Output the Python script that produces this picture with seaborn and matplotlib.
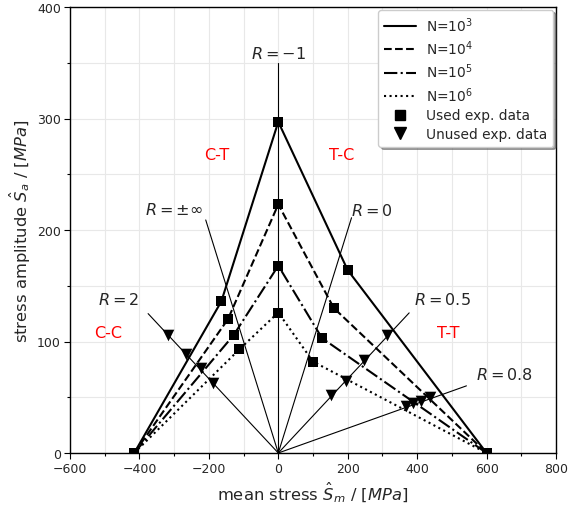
import numpy as np
import pandas as pd
import matplotlib
matplotlib.use("Agg")
import matplotlib.pyplot as plt
from matplotlib.lines import Line2D
from matplotlib.ticker import MultipleLocator
import seaborn as sns

# ---------------- data ----------------
cycles = ["$10^3$", "$10^4$", "$10^5$", "$10^6$"]
line_styles = ["-", "--", "-.", ":"]

# constant-life polylines (mean stress, amplitude)
sm_n3 = [-415, -164, 0, 200, 600]
sa_n3 = [0, 136, 297, 164, 0]
sm_n4 = [-415, -145, 0, 160, 600]
sa_n4 = [0, 120, 223, 130, 0]
sm_n5 = [-415, -128, 0, 126, 600]
sa_n5 = [0, 106, 168, 103, 0]
sm_n6 = [-415, -112, 0, 100, 600]
sa_n6 = [0, 93, 126, 82, 0]

# unused experimental data
sm_unused = [-318, -265, -222, -188, 313, 247, 194, 153, 438, 412, 388, 367]
sa_unused = [106, 89, 76, 63, 106, 83, 65, 52, 50, 47, 45, 42]

# stress-ratio rays from the origin
r_values = [-1, np.inf, 0, 2, 0.5, 0.8]
r_labels = [r"$R = -1$", r"$R = \pm\infty$", r"$R = 0$", r"$R = 2$",
            r"$R = 0.5$", r"$R = 0.8$"]
r_end_sm = [0, -209, 211, -375, 377, 542]
r_end_sa_vertical = 350
r_label_pos = [(0, 359), (-301, 219), (270, 218), (-461, 138), (473, 138), (651, 71)]

regions = ["C-T", "T-C", "C-C", "T-T"]
region_pos = [(-178, 268), (182, 268), (-489, 108), (489, 108)]

# ---------------- plot ----------------
sns.set_style("whitegrid")
plt.rcParams["font.family"] = ["DejaVu Sans"]
plt.rcParams["mathtext.fontset"] = "dejavusans"

fig = plt.figure(figsize=(5.68, 5.10), dpi=100)
ax = fig.add_axes([70 / 568, 1 - 454 / 510, 486 / 568, 446 / 510])

# rays
for R, sm_end in zip(r_values, r_end_sm):
    if R == -1:
        xs, ys = [0, 0], [0, r_end_sa_vertical]
    elif np.isinf(R):
        xs, ys = [0, sm_end], [0, -sm_end]
    else:
        xs, ys = [0, sm_end], [0, sm_end * (1 - R) / (1 + R)]
    sns.lineplot(x=xs, y=ys, sort=False, estimator=None, color="k", lw=0.8,
                 ax=ax, zorder=2)

series = [(sm_n3, sa_n3), (sm_n4, sa_n4), (sm_n5, sa_n5), (sm_n6, sa_n6)]
for (sm, sa), ls in zip(series, line_styles):
    sns.lineplot(x=sm, y=sa, sort=False, estimator=None, color="k", lw=1.5,
                 linestyle=ls, ax=ax, zorder=3)
    sns.scatterplot(x=sm, y=sa, marker="s", color="k", s=50, edgecolor="k",
                    linewidth=0, ax=ax, zorder=4)

sns.scatterplot(x=sm_unused, y=sa_unused, marker="v", color="k", s=70,
                edgecolor="k", linewidth=0, ax=ax, zorder=4)

for lab, (x, y) in zip(r_labels, r_label_pos):
    ax.text(x, y, lab, ha="center", va="center", fontsize=11.5, zorder=5)
for lab, (x, y) in zip(regions, region_pos):
    ax.text(x, y, lab, ha="center", va="center", fontsize=11.5, color="red", zorder=5)

ax.set_xlim(-600, 800)
ax.set_ylim(0, 400)
ax.xaxis.set_major_locator(MultipleLocator(200))
ax.xaxis.set_minor_locator(MultipleLocator(100))
ax.yaxis.set_major_locator(MultipleLocator(100))
ax.yaxis.set_minor_locator(MultipleLocator(50))
ax.grid(True, which="both", color="#e8e8e8", lw=0.8)
ax.set_axisbelow(True)
for sp in ax.spines.values():
    sp.set_color("k")
    sp.set_linewidth(1.0)
ax.tick_params(which="both", direction="out", length=4, width=0.8, color="k",
               labelsize=9, bottom=True, left=True, pad=2.5)
ax.tick_params(which="minor", length=2.5)

ax.set_xlabel(r"mean stress $\hat{S}_m$ / $[MPa]$", fontsize=11.8, labelpad=3)
ax.set_ylabel(r"stress amplitude $\hat{S}_a$ / $[MPa]$", fontsize=11.8, labelpad=3)

handles = [Line2D([], [], color="k", lw=1.5, ls=ls) for ls in line_styles]
labels = ["N=" + c for c in cycles]
handles += [Line2D([], [], color="k", marker="s", ls="none", ms=7),
            Line2D([], [], color="k", marker="v", ls="none", ms=8)]
labels += ["Used exp. data", "Unused exp. data"]
leg = ax.legend(handles, labels, loc="upper right", fontsize=9.9, shadow=True,
                frameon=True, framealpha=1, edgecolor="#cccccc",
                borderaxespad=0.2, handlelength=2.3, labelspacing=0.34)
leg.set_zorder(10)

fig.savefig("out.png", dpi=100)
